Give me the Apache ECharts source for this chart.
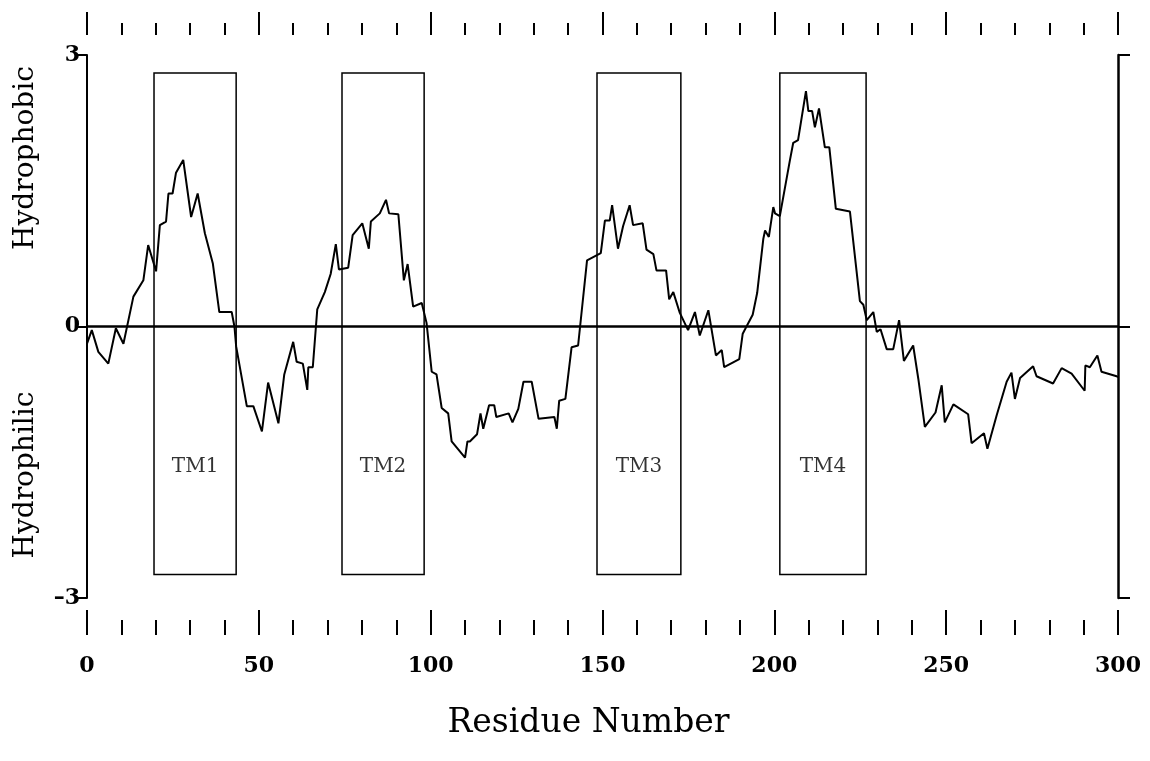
<!DOCTYPE html>
<html>
<head>
<meta charset="utf-8">
<script src="https://cdn.jsdelivr.net/npm/echarts@6/dist/echarts.min.js"></script>
<style>
  html, body { margin: 0; padding: 0; background: #fff; }
  #main { width: 1150px; height: 761px; }
</style>
</head>
<body>
<div id="main"></div>
<script>
// hydropathy profile
var residues = [0, 1.4, 3.3, 6.2, 8.4, 10.6, 13.5, 16.4, 17.8, 20.1, 21.2, 23, 23.7, 24.9, 25.9, 28, 30.3, 32.2, 34.3, 36.6, 38.5, 42.1, 42.9, 43.4, 46.5, 48.4, 50.9, 52.7, 55.7, 57.4, 60, 61, 62.8, 64.1, 64.4, 65.7, 67, 69.2, 70.9, 72.4, 73.3, 76, 77.3, 80.1, 82, 82.6, 85.2, 87, 87.9, 90.6, 92.2, 93.3, 94.9, 97.4, 98.8, 100.3, 101.7, 103.2, 105.1, 106.1, 110, 110.7, 111.4, 113.5, 114.5, 115.3, 117, 118.5, 119.1, 122.7, 123.8, 125.5, 127, 129.4, 131.4, 136, 136.7, 137.4, 139.2, 141, 142.9, 145.5, 149.5, 150.7, 152.1, 152.8, 154.5, 156, 157.9, 158.9, 161.7, 162.8, 164.8, 165.7, 168.5, 169.4, 170.6, 172.5, 174.9, 176.9, 178.3, 180.8, 183, 184.7, 185.4, 189.8, 190.8, 191.9, 193.7, 195, 196.8, 197.3, 198.4, 199.7, 200.2, 201.6, 204.5, 205.5, 206.9, 209.2, 209.9, 211, 211.8, 213, 214.7, 216, 217.9, 222, 224.9, 225.9, 226.9, 228.8, 229.8, 230.9, 232.7, 234.6, 236.3, 237.7, 240.4, 241.9, 243.8, 246.9, 248.7, 249.6, 252.1, 256.4, 257.4, 261, 262, 264.7, 267.6, 269, 270, 271.5, 275.3, 276.3, 281.1, 283.6, 286.5, 290.3, 290.5, 291.8, 294, 295.2, 299.6, 300];
var hydropathy = [-0.19, -0.04, -0.28, -0.41, -0.02, -0.19, 0.33, 0.51, 0.90, 0.61, 1.12, 1.16, 1.47, 1.47, 1.70, 1.84, 1.21, 1.47, 1.03, 0.70, 0.16, 0.16, 0.0, -0.22, -0.88, -0.88, -1.16, -0.62, -1.07, -0.53, -0.17, -0.39, -0.41, -0.70, -0.45, -0.45, 0.19, 0.38, 0.58, 0.91, 0.63, 0.65, 1.01, 1.14, 0.86, 1.16, 1.25, 1.40, 1.25, 1.24, 0.51, 0.69, 0.22, 0.26, 0.04, -0.50, -0.53, -0.90, -0.96, -1.27, -1.45, -1.27, -1.27, -1.19, -0.96, -1.13, -0.87, -0.87, -1.0, -0.96, -1.06, -0.91, -0.61, -0.61, -1.02, -1.0, -1.13, -0.82, -0.80, -0.23, -0.21, 0.73, 0.81, 1.17, 1.17, 1.34, 0.86, 1.11, 1.34, 1.12, 1.14, 0.85, 0.80, 0.62, 0.62, 0.30, 0.38, 0.15, -0.04, 0.16, -0.10, 0.18, -0.32, -0.26, -0.45, -0.36, -0.08, 0.0, 0.13, 0.37, 0.97, 1.06, 0.99, 1.32, 1.25, 1.22, 1.83, 2.03, 2.06, 2.60, 2.38, 2.38, 2.20, 2.41, 1.98, 1.98, 1.30, 1.27, 0.28, 0.24, 0.07, 0.16, -0.06, -0.03, -0.25, -0.25, 0.07, -0.38, -0.21, -0.58, -1.11, -0.95, -0.65, -1.06, -0.86, -0.97, -1.29, -1.18, -1.35, -0.98, -0.61, -0.51, -0.80, -0.57, -0.44, -0.55, -0.63, -0.46, -0.52, -0.71, -0.43, -0.45, -0.32, -0.50, -0.55, -0.56];

// transmembrane segments
var tmNames = ['TM1', 'TM2', 'TM3', 'TM4'];
var tmStart = [19.5, 74.2, 148.4, 201.6];
var tmEnd = [43.4, 98.1, 172.8, 226.7];

var xTicks = [0, 50, 100, 150, 200, 250, 300];
var yTicks = [-3, 0, 3];

var serif = '"DejaVu Serif", "Liberation Serif", serif';

var chart = echarts.init(document.getElementById('main'));

var lineData = residues.map(function (r, i) { return [r, hydropathy[i]]; });

var boxes = tmNames.map(function (n, i) {
    return [{ xAxis: tmStart[i], yAxis: 2.8 }, { xAxis: tmEnd[i], yAxis: -2.74 }];
});

var labelData = tmNames.map(function (n, i) {
    return { name: n, value: [(tmStart[i] + tmEnd[i]) / 2, -1.55] };
});

var option = {
    backgroundColor: '#fff',
    animation: false,
    grid: { left: 87, right: 32, top: 55, bottom: 163 },
    xAxis: [{
        type: 'value',
        position: 'bottom',
        offset: 37,
        min: xTicks[0], max: xTicks[xTicks.length - 1], interval: 50,
        axisLine: { show: false, onZero: false },
        axisTick: { show: true, inside: true, length: 25, lineStyle: { color: '#000', width: 2 } },
        minorTick: { show: true, splitNumber: 5, length: 15, lineStyle: { color: '#000', width: 2 } },
        splitLine: { show: false },
        axisLabel: { margin: 20, color: '#000', fontFamily: serif, fontSize: 22, fontWeight: 'bold' },
        name: 'Residue Number',
        nameLocation: 'middle',
        nameGap: 72,
        nameTextStyle: { color: '#000', fontFamily: serif, fontSize: 33, padding: [0, 28, 0, 0] }
    }, {
        type: 'value',
        position: 'top',
        offset: 20,
        min: xTicks[0], max: xTicks[xTicks.length - 1], interval: 50,
        axisLine: { show: false, onZero: false },
        axisTick: { show: true, length: 23, lineStyle: { color: '#000', width: 2 } },
        minorTick: { show: true, splitNumber: 5, length: 12, lineStyle: { color: '#000', width: 2 } },
        splitLine: { show: false },
        axisLabel: { show: false }
    }],
    yAxis: [{
        type: 'value',
        position: 'left',
        min: yTicks[0], max: yTicks[2], interval: 3,
        axisLine: { show: true, onZero: false, lineStyle: { color: '#000', width: 2 } },
        axisTick: { show: true, length: 10, lineStyle: { color: '#000', width: 2 } },
        splitLine: { show: false },
        axisLabel: { margin: 7, color: '#000', fontFamily: serif, fontSize: 22, fontWeight: 'bold',
            formatter: function (v) { return v < 0 ? '\u2013' + Math.abs(v) : String(v); } }
    }, {
        type: 'value',
        position: 'right',
        min: yTicks[0], max: yTicks[2], interval: 3,
        axisLine: { show: true, onZero: false, lineStyle: { color: '#000', width: 2.5 } },
        axisTick: { show: true, length: 12, lineStyle: { color: '#000', width: 2 } },
        splitLine: { show: false },
        axisLabel: { show: false }
    }],
    series: [{
        type: 'line',
        data: lineData,
        symbol: 'none',
        lineStyle: { color: '#000', width: 2 },
        markLine: {
            silent: true,
            symbol: 'none',
            label: { show: false },
            lineStyle: { color: '#000', width: 2.5, type: 'solid' },
            data: [{ yAxis: 0 }]
        },
        markArea: {
            silent: true,
            itemStyle: { color: 'rgba(0,0,0,0)', borderColor: '#000', borderWidth: 1.5 },
            data: boxes
        }
    }, {
        type: 'scatter',
        yAxisIndex: 1,
        data: labelData,
        symbolSize: 0,
        label: {
            show: true, position: 'inside', formatter: '{b}',
            color: '#000', textBorderWidth: 0, fontFamily: serif, fontSize: 20
        }
    }],
    graphic: [{
        type: 'text', x: 26, y: 158, rotation: Math.PI / 2,
        style: { text: 'Hydrophobic', fill: '#000', font: '28px ' + serif, align: 'center', verticalAlign: 'middle' }
    }, {
        type: 'text', x: 26, y: 475, rotation: Math.PI / 2,
        style: { text: 'Hydrophilic', fill: '#000', font: '28px ' + serif, align: 'center', verticalAlign: 'middle' }
    }]
};

chart.setOption(option);
</script>
</body>
</html>
